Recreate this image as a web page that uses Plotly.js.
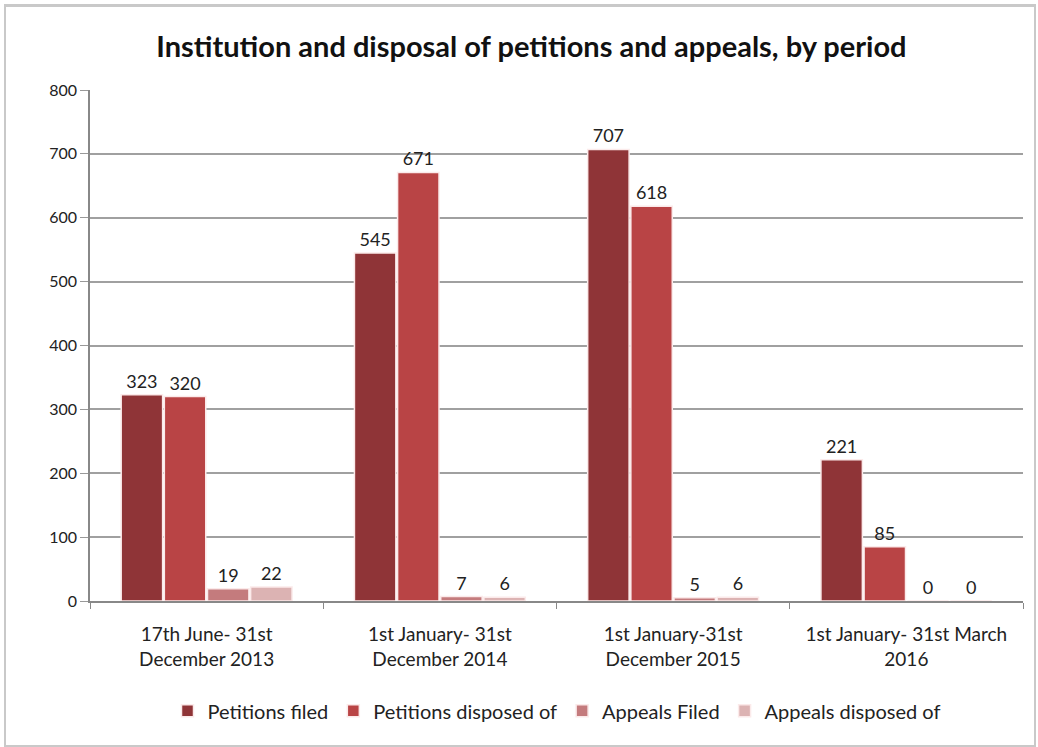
<!DOCTYPE html>
<html><head><meta charset="utf-8">
<script src="https://cdn.plot.ly/plotly-3.0.1.min.js"></script>
<style>
html,body{margin:0;padding:0;background:#fff;}
#wrap{position:relative;width:1038px;height:747px;}
#chart{width:1038px;height:747px;}
#frame{position:absolute;left:4px;top:4px;width:1028px;height:738px;border:2px solid #c9c9c9;border-top-width:3px;pointer-events:none;}
</style></head>
<body>
<div id="wrap"><div id="chart"></div><div id="frame"></div></div>
<script>
const categories = ["17th June- 31st<br>December 2013", "1st January- 31st<br>December 2014", "1st January-31st<br>December 2015", "1st January- 31st March<br>2016"];
const petitionsFiled = [323, 545, 707, 221];
const petitionsDisposed = [320, 671, 618, 85];
const appealsFiled = [19, 7, 5, 0];
const appealsDisposed = [22, 6, 6, 0];
const seriesNames = ["Petitions filed", "Petitions disposed of", "Appeals Filed", "Appeals disposed of"];
const seriesColors = ["#8f3437", "#b94445", "#c47b7d", "#dcb3b3"];
const seriesValues = [petitionsFiled, petitionsDisposed, appealsFiled, appealsDisposed];
const font = "Lato, 'Open Sans', sans-serif";

const data = seriesValues.map((vals, i) => ({
  type: 'bar',
  name: seriesNames[i],
  x: categories,
  y: vals,
  text: vals.map(String),
  textposition: 'outside',
  cliponaxis: false,
  textfont: {family: font, size: 18, color: '#222'},
  marker: {color: seriesColors[i], line: {color: '#fbeaea', width: 1.5}}
}));

const layout = {
  width: 1038, height: 747,
  margin: {l: 90, r: 15, t: 90, b: 146},
  paper_bgcolor: '#fff', plot_bgcolor: '#fff',
  title: {text: '<b>Institution and disposal of petitions and appeals, by period</b>', x: 0.512, xanchor: 'center', y: 0.937, yanchor: 'middle', font: {family: font, size: 29, color: '#111'}},
  barmode: 'group', bargap: 0.26, bargroupgap: 0.04,
  font: {family: font, size: 16, color: '#222'},
  xaxis: {type: 'category', tickson: 'boundaries', ticks: 'outside', ticklen: 6, tickcolor: '#888', showline: true, linecolor: '#888', linewidth: 2, tickfont: {family: font, size: 19, color: '#222'}, ticklabelstandoff: 15, showgrid: false},
  yaxis: {range: [0, 800], dtick: 100, ticks: 'outside', ticklen: 8, tickcolor: '#999', showline: true, linecolor: '#888', linewidth: 1.5, gridcolor: '#a0a0a0', gridwidth: 2, zeroline: false, tickfont: {family: font, size: 16, color: '#222'}},
  legend: {orientation: 'h', x: 0.5, xanchor: 'center', y: -0.215, yanchor: 'middle', font: {family: font, size: 20, color: '#222'}, itemwidth: 30, traceorder: 'normal'},
  showlegend: true
};
Plotly.newPlot('chart', data, layout, {displayModeBar: false});
</script>
</body></html>
